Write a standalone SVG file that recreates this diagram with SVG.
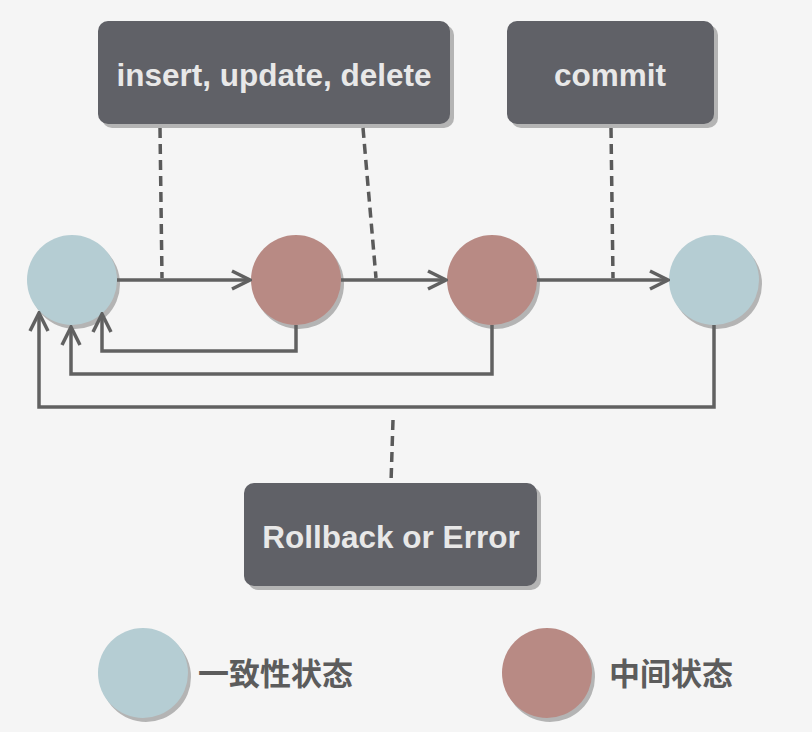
<svg xmlns="http://www.w3.org/2000/svg" width="812" height="732" viewBox="0 0 812 732">
<defs>
<style>
.box{fill:#606167}
.bsh{fill:#b4b4b4}
.bt{font-family:"Liberation Sans",Arial,sans-serif;font-weight:bold;font-size:31.5px;fill:#e8e8e8;text-anchor:middle}
.csh{fill:#b4b4b4}
.cons{fill:#b5cdd3}
.mid{fill:#b88a84}
.ln{fill:none;stroke:#616161;stroke-width:3.5}
.dash{fill:none;stroke:#5a5a5a;stroke-width:3.5;stroke-dasharray:10 6}
.lt{font-family:"Noto Sans CJK SC","Noto Sans CJK JP",sans-serif;font-weight:bold;font-size:31px;fill:#5c5c5c}
</style>
<marker id="ah" viewBox="0 0 22 22" refX="20" refY="11" markerWidth="22" markerHeight="22" markerUnits="userSpaceOnUse" orient="auto">
<path d="M2,2 L20,11 L2,20" fill="none" stroke="#616161" stroke-width="3.5"/>
</marker>
</defs>
<rect width="812" height="732" fill="#f5f5f5"/>
<g id="box-dml">
<rect class="bsh" x="102" y="25" width="352" height="103" rx="10"/>
<rect class="box" x="98" y="21" width="352" height="103" rx="10"/>
<text class="bt" x="274" y="86">insert, update, delete</text>
</g>
<g id="box-commit">
<rect class="bsh" x="511" y="25" width="207" height="103" rx="10"/>
<rect class="box" x="507" y="21" width="207" height="103" rx="10"/>
<text class="bt" x="610" y="86">commit</text>
</g>
<g id="box-rollback">
<rect class="bsh" x="248" y="487" width="293" height="103" rx="10"/>
<rect class="box" x="244" y="483" width="293" height="103" rx="10"/>
<text class="bt" x="391" y="548">Rollback or Error</text>
</g>
<g id="state-1">
<circle class="csh" cx="75" cy="284" r="45"/>
<circle class="cons" cx="72" cy="280" r="45"/>
</g>
<g id="state-2">
<circle class="csh" cx="299" cy="284" r="45"/>
<circle class="mid" cx="296" cy="280" r="45"/>
</g>
<g id="state-3">
<circle class="csh" cx="495" cy="284" r="45"/>
<circle class="mid" cx="492" cy="280" r="45"/>
</g>
<g id="state-4">
<circle class="csh" cx="717" cy="284" r="45"/>
<circle class="cons" cx="714" cy="280" r="45"/>
</g>
<g id="connectors">
<path class="dash" d="M160,128 L162,278"/>
<path class="dash" d="M363,128 L376,278"/>
<path class="dash" d="M611,128 L613,278"/>
<path class="dash" d="M393,420 L391,483"/>
<path class="ln" d="M117,280 L250,280" marker-end="url(#ah)"/>
<path class="ln" d="M341,280 L446,280" marker-end="url(#ah)"/>
<path class="ln" d="M537,280 L668,280" marker-end="url(#ah)"/>
<path class="ln" d="M296,325 L296,351 L102,351 L102,314" marker-end="url(#ah)"/>
<path class="ln" d="M492,325 L492,374 L71,374 L71,327" marker-end="url(#ah)"/>
<path class="ln" d="M714,325 L714,407 L39,407 L39,313" marker-end="url(#ah)"/>
</g>
<g id="legend-consistent">
<circle class="csh" cx="146" cy="677" r="45"/>
<circle class="cons" cx="143" cy="673" r="45"/>
<text class="lt" x="198" y="685">一致性状态</text>
</g>
<g id="legend-intermediate">
<circle class="csh" cx="550" cy="677" r="45"/>
<circle class="mid" cx="547" cy="673" r="45"/>
<text class="lt" x="609" y="685">中间状态</text>
</g>
</svg>
